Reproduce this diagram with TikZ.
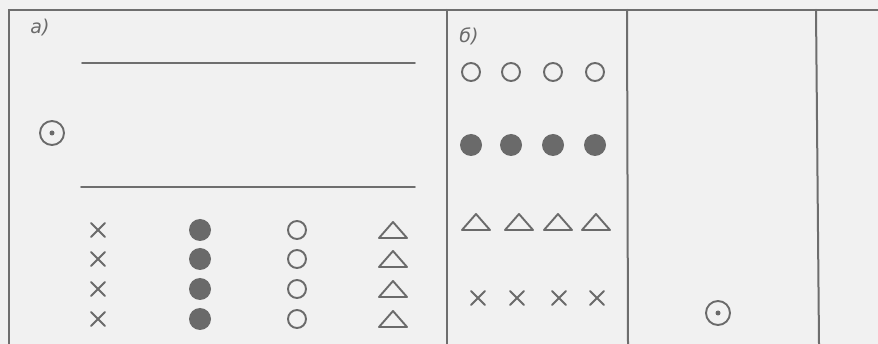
\documentclass[tikz,border=0pt]{standalone}
\usepackage{fontspec}
\setmainfont{DejaVu Sans}
\begin{document}
\begin{tikzpicture}[x=1pt,y=-1pt,line cap=round]
\definecolor{bg}{HTML}{F1F1F1}
\definecolor{ln}{HTML}{6E6E6E}
\definecolor{sym}{HTML}{6A6A6A}
\tikzset{
 frame/.style={draw=ln,line width=2pt},
 rule/.style={draw=ln,line width=1.6pt},
 symline/.style={draw=sym,line width=1.9pt},
 lbl/.style={text=sym,font=\fontsize{19}{19}\selectfont\itshape,inner sep=0pt},
 xmark/.pic={\draw[symline] (-7,-7) -- (7,7) (-7,7) -- (7,-7);},
 tri/.pic={\draw[symline,line join=round] (-14,8) -- (0,-8) -- (14,8) -- cycle;},
 ocirc/.pic={\draw[symline] (0,0) circle[radius=9pt];},
 fcirc/.pic={\fill[sym] (0,0) circle[radius=11pt];},
 odot/.pic={\draw[symline] (0,0) circle[radius=12pt]; \fill[sym] (0,0) circle[radius=2.5pt];},
}
\fill[bg] (0,0) rectangle (878,344);
\useasboundingbox (0,0) rectangle (878,344);
% frame
\draw[frame] (9,344) -- (9,10) -- (878,10);
\draw[frame] (447,10) -- (447,344);
\draw[frame] (627,10) -- (628,344);
\draw[frame] (816,10) -- (819,344);
% panel a
\node[lbl] (la) at (40,28) {а)};
\draw[rule] (82,63) -- (415,63);
\draw[rule] (81,187) -- (415,187);
\pic at (52,133) {odot};
\foreach \y [count=\i] in {230,259,289,319}{
  \pic at (98,\y) {xmark};
  \pic at (200,\y) {fcirc};
  \pic at (297,\y) {ocirc};
  \pic at (393,\y) {tri};
}
% panel b
\node[lbl] (lb) at (469,36) {б)};
\foreach \x in {471,511,553,595}{
  \pic at (\x,72) {ocirc};
  \pic at (\x,145) {fcirc};
}
\foreach \x in {476,519,558,596}{
  \pic at (\x,222) {tri};
}
\foreach \x in {478,517,559,597}{
  \pic at (\x,298) {xmark};
}
\pic at (718,313) {odot};
\end{tikzpicture}
\end{document}
